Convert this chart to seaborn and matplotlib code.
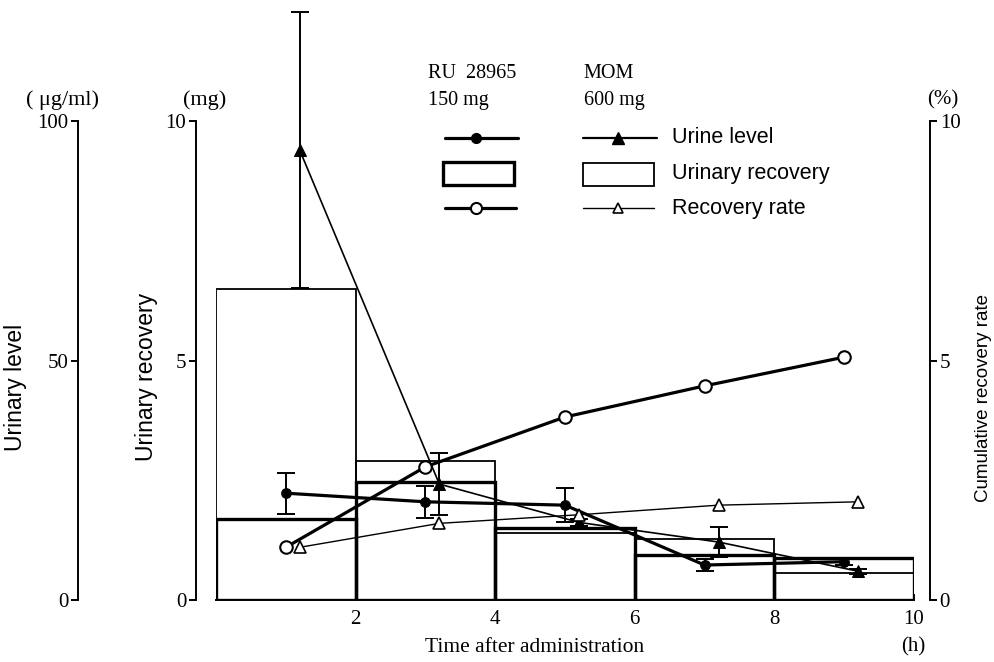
import matplotlib
matplotlib.use("Agg")
import matplotlib.pyplot as plt
import seaborn as sns
from matplotlib.patches import Rectangle

# collection periods (h)
period_mid = [1, 3, 5, 7, 9]
time_ru = [1, 3, 5, 7, 9]
time_mom = [1.2, 3.2, 5.2, 7.2, 9.2]

# urinary recovery per period (mg)
recovery_ru = [1.69, 2.46, 1.50, 0.94, 0.87]
recovery_mom = [6.49, 2.90, 1.40, 1.27, 0.57]

# urine level (ug/ml) and error
level_ru = [22.3, 20.5, 19.8, 7.3, 8.0]
level_ru_err = [4.3, 3.4, 3.5, 1.3, 0.6]
level_mom = [93.9, 24.2, 16.2, 12.1, 6.0]
level_mom_err = [28.8, 6.5, 0.8, 3.2, 0.5]

# cumulative recovery rate (%)
rate_ru = [1.1, 2.78, 3.82, 4.47, 5.07]
rate_mom = [1.1, 1.6, 1.78, 1.98, 2.05]

sns.set_theme(style="white")
plt.rcParams['font.family'] = ['Liberation Serif', 'DejaVu Serif']
plt.rcParams['text.color'] = 'black'
plt.rcParams['xtick.color'] = 'black'
plt.rcParams['ytick.color'] = 'black'
plt.rcParams['axes.labelcolor'] = 'black'

SERIF = 'Liberation Serif'
SANS = 'Liberation Sans'
W, H = 994, 662
PT = 0.72  # points per pixel at dpi 100

fig = plt.figure(figsize=(W / 100, H / 100), dpi=100)
ax = fig.add_axes([216 / W, 62 / H, 698 / W, 12.5 * 47.9 / H])

# urinary recovery bars (outline only)
sns.barplot(x=period_mid, y=recovery_mom, native_scale=True, width=1, fill=False,
            color='black', linewidth=1.3, errorbar=None, ax=ax)
sns.barplot(x=period_mid, y=recovery_ru, native_scale=True, width=1, fill=False,
            color='black', linewidth=2.4, errorbar=None, ax=ax)
ax.set_xlim(0, 10)
ax.set_ylim(0, 12.5)

# urine level axis
ax_ug = ax.twinx()
ax_ug.set_ylim(0, 125)
ax_ug.patch.set_visible(False)

ax_ug.errorbar(time_ru, level_ru, yerr=level_ru_err, fmt='none', ecolor='black',
               elinewidth=1.4, capsize=6.5, capthick=1.4)
ax_ug.errorbar(time_mom, level_mom, yerr=level_mom_err, fmt='none', ecolor='black',
               elinewidth=1.4, capsize=6.5, capthick=1.4)
sns.lineplot(x=time_ru, y=level_ru, ax=ax_ug, color='black', linewidth=2.3,
             marker='o', markersize=7, markerfacecolor='black', markeredgecolor='black')
sns.lineplot(x=time_mom, y=level_mom, ax=ax_ug, color='black', linewidth=1.2,
             marker='^', markersize=8, markerfacecolor='black', markeredgecolor='black')

# cumulative recovery rate axis
ax_pct = ax.twinx()
ax_pct.set_ylim(0, 12.5)
ax_pct.patch.set_visible(False)
sns.lineplot(x=time_ru, y=rate_ru, ax=ax_pct, color='black', linewidth=2.3,
             marker='o', markersize=9, markerfacecolor='white', markeredgecolor='black',
             markeredgewidth=1.5)
sns.lineplot(x=time_mom, y=rate_mom, ax=ax_pct, color='black', linewidth=1.0,
             marker='^', markersize=8, markerfacecolor='white', markeredgecolor='black',
             markeredgewidth=1.2)

# ---- spines and ticks ----
for a in (ax, ax_ug, ax_pct):
    for s in a.spines.values():
        s.set_visible(False)
        s.set_color('black')
        s.set_linewidth(1.4)
    a.grid(False)
    a.set_xlabel('')
    a.set_ylabel('')

ax.spines['bottom'].set_visible(True)
ax.spines['bottom'].set_bounds(0, 10)
ax.set_xticks([2, 4, 6, 8, 10])
ax.set_xticklabels(['2', '4', '6', '8', '10'], fontsize=15, fontfamily=SERIF)
ax.tick_params(axis='x', direction='in', length=4, width=1.4, bottom=True, pad=7)

ax.spines['left'].set_visible(True)
ax.spines['left'].set_position(('outward', 20 * PT))
ax.spines['left'].set_bounds(0, 10)
ax.set_yticks([0, 5, 10])
ax.set_yticklabels(['0', '5', '10'], fontsize=15, fontfamily=SERIF)
ax.tick_params(axis='y', direction='out', length=5, width=1.4, left=True, pad=2)

ax_ug.yaxis.set_ticks_position('left')
ax_ug.spines['left'].set_visible(True)
ax_ug.spines['left'].set_position(('outward', 138 * PT))
ax_ug.spines['left'].set_bounds(0, 100)
ax_ug.set_yticks([0, 50, 100])
ax_ug.set_yticklabels(['0', '50', '100'], fontsize=15, fontfamily=SERIF)
ax_ug.tick_params(axis='y', direction='out', length=5, width=1.4, left=True, right=False,
                  labelleft=True, labelright=False, pad=2)
ax_ug.tick_params(axis='x', bottom=False, top=False, labelbottom=False, labeltop=False)

ax_pct.spines['right'].set_visible(True)
ax_pct.spines['right'].set_position(('outward', 16 * PT))
ax_pct.spines['right'].set_bounds(0, 10)
ax_pct.set_yticks([0, 5, 10])
ax_pct.set_yticklabels(['0', '5', '10'], fontsize=15, fontfamily=SERIF)
ax_pct.tick_params(axis='y', direction='out', length=5, width=1.4, right=True, pad=2)
ax_pct.tick_params(axis='x', bottom=False, top=False, labelbottom=False, labeltop=False)

# ---- axis titles and units ----
def ftxt(px, py, s, **kw):
    fig.text(px / W, 1 - py / H, s, ha='center', va='center', color='black', **kw)

ftxt(63, 100, '( μg/ml)', fontsize=16, fontfamily=SERIF)
ftxt(205, 100, '(mg)', fontsize=16, fontfamily=SERIF)
ftxt(943, 100, '(%)', fontsize=15, fontfamily=SERIF)
ftxt(16, 387, 'Urinary level', fontsize=16.5, fontfamily=SANS, rotation=90)
ftxt(146, 377, 'Urinary recovery', fontsize=16.5, fontfamily=SANS, rotation=90)
ftxt(984, 398, 'Cumulative recovery rate', fontsize=13.5, fontfamily=SANS, rotation=90)
ftxt(535, 647, 'Time after administration', fontsize=15.5, fontfamily=SERIF)
ftxt(913, 647, '(h)', fontsize=15, fontfamily=SERIF)

# ---- legend ----
ax.text(3.04, 11.0, 'RU  28965', fontsize=14.5, fontfamily=SERIF, va='center', ha='left')
ax.text(3.04, 10.42, '150 mg', fontsize=14.5, fontfamily=SERIF, va='center', ha='left')
ax.text(5.27, 11.0, 'MOM', fontsize=14.5, fontfamily=SERIF, va='center', ha='left')
ax.text(5.27, 10.42, '600 mg', fontsize=14.5, fontfamily=SERIF, va='center', ha='left')

ax.plot([3.28, 4.33], [9.65, 9.65], color='black', lw=2.3, clip_on=False)
ax.plot([3.72], [9.65], 'o', color='black', ms=7, clip_on=False)
ax.plot([5.26, 6.32], [9.65, 9.65], color='black', lw=1.6, clip_on=False)
ax.plot([5.76], [9.65], '^', color='black', ms=8, clip_on=False)

ax.add_patch(Rectangle((3.25, 8.66), 1.02, 0.48, fill=False, lw=2.4, ec='black', clip_on=False))
ax.add_patch(Rectangle((5.26, 8.64), 1.02, 0.48, fill=False, lw=1.3, ec='black', clip_on=False))

ax.plot([3.28, 4.3], [8.18, 8.18], color='black', lw=2.3, clip_on=False)
ax.plot([3.72], [8.18], 'o', mfc='white', mec='black', mew=1.5, ms=8, clip_on=False)
ax.plot([5.26, 6.28], [8.18, 8.18], color='black', lw=1.0, clip_on=False)
ax.plot([5.76], [8.18], '^', mfc='white', mec='black', mew=1.2, ms=7, clip_on=False)

ax.text(6.53, 9.65, 'Urine level', fontsize=15.5, fontfamily=SANS, va='center')
ax.text(6.53, 8.91, 'Urinary recovery', fontsize=15.5, fontfamily=SANS, va='center')
ax.text(6.53, 8.18, 'Recovery rate', fontsize=15.5, fontfamily=SANS, va='center')

fig.savefig('out.png', dpi=100)
